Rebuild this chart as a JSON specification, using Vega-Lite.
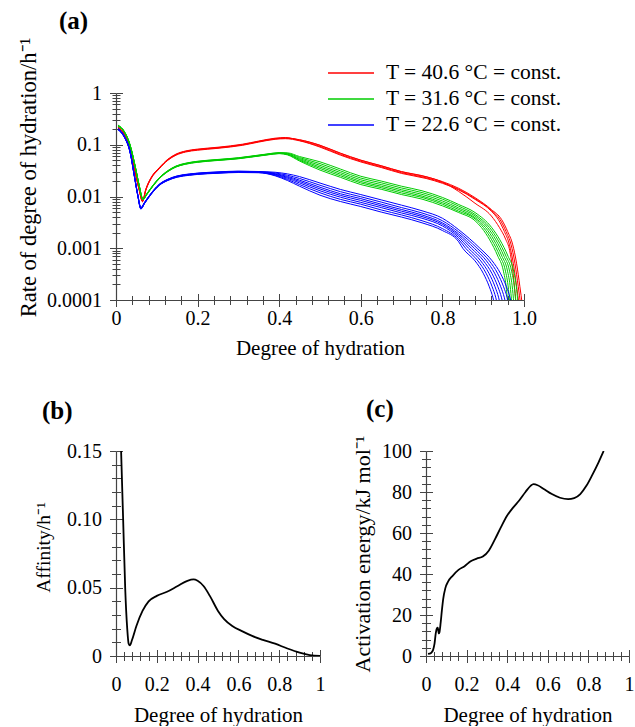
{
"$schema": "https://vega.github.io/schema/vega-lite/v6.json",
"padding": {"left": 11, "top": 9, "right": 0, "bottom": 0},
"config": {
  "font": "Liberation Serif",
  "view": {"stroke": null},
  "axis": {"grid": false, "domainColor": "#444", "tickColor": "#444", "labelColor": "#000", "titleColor": "#000", "labelFont": "Liberation Serif", "titleFont": "Liberation Serif", "labelFontSize": 20, "titleFontSize": 21, "titleFontWeight": "normal", "labelFlush": false, "labelOverlap": false, "labelBound": false, "tickWidth": 1, "domainWidth": 1.2},
  "title": {"font": "Liberation Serif", "fontSize": 25, "fontWeight": "bold", "color": "#000"}
},
"concat": [
{
  "width": 408, "height": 207,
  "title": {"text": "(a)", "frame": "group", "anchor": "start", "dx": -57, "offset": 3},
  "data": {"name": "rate"},
  "layer": [
    {
      "mark": {"type": "line", "interpolate": "monotone", "strokeWidth": 1, "clip": true},
      "encoding": {
        "x": {"field": "x", "type": "quantitative", "scale": {"domain": [0, 1], "nice": false},
          "axis": {"orient": "bottom", "values": [0,0.04,0.08,0.12,0.16,0.2,0.24,0.28,0.32,0.36,0.4,0.44,0.48,0.52,0.56,0.6,0.64,0.68,0.72,0.76,0.8,0.84,0.88,0.92,0.96,1],
            "tickSize": {"condition": {"test": "abs(datum.value*5-round(datum.value*5))<0.001", "value": 6.5}, "value": 4.5},
            "labelExpr": "abs(datum.value*5-round(datum.value*5))<0.001 ? (datum.value==0 ? '0' : format(datum.value,'.1f')) : ''",
            "labelPadding": 2, "title": "Degree of hydration", "titlePadding": 9}},
        "y": {"field": "y", "type": "quantitative", "scale": {"type": "log", "domain": [0.0001, 1], "nice": false},
          "axis": {"orient": "left", "values": [0.0001,0.0002,0.0003,0.0004,0.0005,0.0006,0.0007,0.0008,0.0009,0.001,0.002,0.003,0.004,0.005,0.006,0.007,0.008,0.009,0.01,0.02,0.03,0.04,0.05,0.06,0.07,0.08,0.09,0.1,0.2,0.3,0.4,0.5,0.6,0.7,0.8,0.9,1],
            "tickSize": {"condition": {"test": "abs(log(datum.value)/LN10-round(log(datum.value)/LN10))<0.001", "value": 6.5}, "value": 4},
            "labelExpr": "abs(log(datum.value)/LN10-round(log(datum.value)/LN10))<0.001 ? format(datum.value,'~g') : ''",
            "labelPadding": 8, "title": "Rate of degree of hydration/h⁻¹", "titleFontSize": 22.5, "titlePadding": 6, "titleY": 84}},
        "color": {"field": "t", "type": "nominal",
          "scale": {"domain": ["40.6", "31.6", "22.6"], "range": ["#ff0000", "#00cc00", "#0000ff"]},
          "legend": {"orient": "none", "legendX": 224, "legendY": -31, "title": null, "symbolType": "M-2.3,0H2.3", "symbolSize": 400, "symbolStrokeWidth": 1.5, "labelFontSize": 21.5, "labelFont": "Liberation Serif", "labelColor": "#000", "labelOffset": 24, "rowPadding": 4, "labelLimit": 400, "labelExpr": "'T = ' + datum.label + ' °C = const.'"}},
        "detail": {"field": "g"}
      }
    },
    {
      "mark": {"type": "point", "opacity": 0},
      "encoding": {
        "x": {"field": "x", "type": "quantitative", "scale": {"domain": [0, 1], "nice": false},
          "axis": {"orient": "bottom", "values": [0,0.04,0.08,0.12,0.16,0.2,0.24,0.28,0.32,0.36,0.4,0.44,0.48,0.52,0.56,0.6,0.64,0.68,0.72,0.76,0.8,0.84,0.88,0.92,0.96,1],
            "tickSize": {"condition": {"test": "abs(datum.value*5-round(datum.value*5))<0.001", "value": -6.5}, "value": -4.5},
            "labels": false, "domain": false, "title": null}},
        "y": {"field": "y", "type": "quantitative", "scale": {"type": "log", "domain": [0.0001, 1], "nice": false},
          "axis": {"orient": "left", "values": [0.0001,0.0002,0.0003,0.0004,0.0005,0.0006,0.0007,0.0008,0.0009,0.001,0.002,0.003,0.004,0.005,0.006,0.007,0.008,0.009,0.01,0.02,0.03,0.04,0.05,0.06,0.07,0.08,0.09,0.1,0.2,0.3,0.4,0.5,0.6,0.7,0.8,0.9,1],
            "tickSize": {"condition": {"test": "abs(log(datum.value)/LN10-round(log(datum.value)/LN10))<0.001", "value": -6.5}, "value": -4},
            "labels": false, "domain": false, "title": null}}
      }
    },
    {
      "mark": {"type": "point", "opacity": 0},
      "encoding": {
        "y": {"field": "y", "type": "quantitative", "scale": {"type": "log", "domain": [0.0001, 1], "nice": false},
          "axis": {"orient": "left", "offset": 105, "domain": true, "domainOpacity": 0, "ticks": false, "labels": false, "title": null}}
      }
    }
  ],
  "resolve": {"axis": {"x": "independent", "y": "independent"}}
},
{
  "hconcat": [
    {
      "width": 204, "height": 205,
      "title": {"text": "(b)", "frame": "group", "anchor": "start", "dx": -74, "offset": 17},
      "data": {"name": "aff"},
      "layer": [
        {
          "mark": {"type": "line", "interpolate": "monotone", "strokeWidth": 1.8, "color": "#000", "clip": true},
          "encoding": {
            "x": {"field": "x", "type": "quantitative", "scale": {"domain": [0, 1], "nice": false},
              "axis": {"orient": "bottom", "values": [0,0.04,0.08,0.12,0.16,0.2,0.24,0.28,0.32,0.36,0.4,0.44,0.48,0.52,0.56,0.6,0.64,0.68,0.72,0.76,0.8,0.84,0.88,0.92,0.96,1],
                "tickSize": {"condition": {"test": "abs(datum.value*5-round(datum.value*5))<0.001", "value": 6.5}, "value": 4.5},
                "labelExpr": "abs(datum.value*5-round(datum.value*5))<0.001 ? (datum.value==0 ? '0' : datum.value==1 ? '1' : format(datum.value,'.1f')) : ''",
                "labelPadding": 12, "title": "Degree of hydration", "titlePadding": 10}},
            "y": {"field": "y", "type": "quantitative", "scale": {"domain": [0, 0.15], "nice": false},
              "axis": {"orient": "left", "values": [0,0.01,0.02,0.03,0.04,0.05,0.06,0.07,0.08,0.09,0.1,0.11,0.12,0.13,0.14,0.15],
                "tickSize": {"condition": {"test": "abs(datum.value*20-round(datum.value*20))<0.001", "value": 6.5}, "value": 4.5},
                "labelExpr": "abs(datum.value*20-round(datum.value*20))<0.001 ? (datum.value==0 ? '0' : format(datum.value,'.2f')) : ''",
                "labelPadding": 8, "title": "Affinity/h⁻¹", "titleFontSize": 19.5, "titlePadding": 13, "titleY": 96}}
          }
        },
        {
          "mark": {"type": "point", "opacity": 0},
          "encoding": {
            "x": {"field": "x", "type": "quantitative", "scale": {"domain": [0, 1], "nice": false},
              "axis": {"orient": "bottom", "values": [0,0.04,0.08,0.12,0.16,0.2,0.24,0.28,0.32,0.36,0.4,0.44,0.48,0.52,0.56,0.6,0.64,0.68,0.72,0.76,0.8,0.84,0.88,0.92,0.96,1],
                "tickSize": {"condition": {"test": "abs(datum.value*5-round(datum.value*5))<0.001", "value": -6.5}, "value": -4.5},
                "labels": false, "domain": false, "title": null}},
            "y": {"field": "y", "type": "quantitative", "scale": {"domain": [0, 0.15], "nice": false},
              "axis": {"orient": "left", "values": [0,0.01,0.02,0.03,0.04,0.05,0.06,0.07,0.08,0.09,0.1,0.11,0.12,0.13,0.14,0.15],
                "tickSize": {"condition": {"test": "abs(datum.value*20-round(datum.value*20))<0.001", "value": -6.5}, "value": -4.5},
                "labels": false, "domain": false, "title": null}}
          }
        },
        {
          "mark": {"type": "point", "opacity": 0},
          "encoding": {
            "y": {"field": "y", "type": "quantitative", "scale": {"domain": [0, 0.15], "nice": false},
              "axis": {"orient": "left", "offset": 105, "domain": true, "domainOpacity": 0, "ticks": false, "labels": false, "title": null}}
          }
        }
      ],
      "resolve": {"axis": {"x": "independent", "y": "independent"}}
    },
    {
      "width": 203, "height": 205,
      "title": {"text": "(c)", "frame": "group", "anchor": "start", "dx": -60, "offset": 13},
      "data": {"name": "ener"},
      "layer": [
        {
          "mark": {"type": "line", "interpolate": "monotone", "strokeWidth": 1.8, "color": "#000", "clip": true},
          "encoding": {
            "x": {"field": "x", "type": "quantitative", "scale": {"domain": [0, 1], "nice": false},
              "axis": {"orient": "bottom", "values": [0,0.04,0.08,0.12,0.16,0.2,0.24,0.28,0.32,0.36,0.4,0.44,0.48,0.52,0.56,0.6,0.64,0.68,0.72,0.76,0.8,0.84,0.88,0.92,0.96,1],
                "tickSize": {"condition": {"test": "abs(datum.value*5-round(datum.value*5))<0.001", "value": 6.5}, "value": 4.5},
                "labelExpr": "abs(datum.value*5-round(datum.value*5))<0.001 ? (datum.value==0 ? '0' : datum.value==1 ? '1' : format(datum.value,'.1f')) : ''",
                "labelPadding": 12, "title": "Degree of hydration", "titlePadding": 10}},
            "y": {"field": "y", "type": "quantitative", "scale": {"domain": [0, 100], "nice": false},
              "axis": {"orient": "left", "values": [0,4,8,12,16,20,24,28,32,36,40,44,48,52,56,60,64,68,72,76,80,84,88,92,96,100],
                "tickSize": {"condition": {"test": "datum.value%20==0", "value": 6.5}, "value": 4.5},
                "labelExpr": "datum.value%20==0 ? format(datum.value,'d') : ''",
                "labelPadding": 8, "title": "Activation energy/kJ mol⁻¹", "titleFontSize": 22, "titlePadding": 7}}
          }
        },
        {
          "mark": {"type": "point", "opacity": 0},
          "encoding": {
            "x": {"field": "x", "type": "quantitative", "scale": {"domain": [0, 1], "nice": false},
              "axis": {"orient": "bottom", "values": [0,0.04,0.08,0.12,0.16,0.2,0.24,0.28,0.32,0.36,0.4,0.44,0.48,0.52,0.56,0.6,0.64,0.68,0.72,0.76,0.8,0.84,0.88,0.92,0.96,1],
                "tickSize": {"condition": {"test": "abs(datum.value*5-round(datum.value*5))<0.001", "value": -6.5}, "value": -4.5},
                "labels": false, "domain": false, "title": null}},
            "y": {"field": "y", "type": "quantitative", "scale": {"domain": [0, 100], "nice": false},
              "axis": {"orient": "left", "values": [0,4,8,12,16,20,24,28,32,36,40,44,48,52,56,60,64,68,72,76,80,84,88,92,96,100],
                "tickSize": {"condition": {"test": "datum.value%20==0", "value": -6.5}, "value": -4.5},
                "labels": false, "domain": false, "title": null}}
          }
        },
        {
          "mark": {"type": "point", "opacity": 0},
          "encoding": {
            "y": {"field": "y", "type": "quantitative", "scale": {"domain": [0, 100], "nice": false},
              "axis": {"orient": "left", "offset": 80, "domain": true, "domainOpacity": 0, "ticks": false, "labels": false, "title": null}}
          }
        }
      ],
      "resolve": {"axis": {"x": "independent", "y": "independent"}}
    }
  ],
  "spacing": 21
}
],
"columns": 1,
"align": "none",
"spacing": 38,
"datasets": {
"aff": [
{"x":0.025,"y":0.15},{"x":0.035,"y":0.1},{"x":0.045,"y":0.05},{"x":0.055,"y":0.02},{"x":0.062,"y":0.009},{"x":0.068,"y":0.0078},{"x":0.078,"y":0.0115},{"x":0.1,"y":0.022},{"x":0.13,"y":0.033},{"x":0.16,"y":0.04},{"x":0.2,"y":0.044},{"x":0.25,"y":0.047},{"x":0.3,"y":0.051},{"x":0.35,"y":0.055},{"x":0.38,"y":0.056},{"x":0.4,"y":0.055},{"x":0.43,"y":0.051},{"x":0.46,"y":0.044},{"x":0.5,"y":0.033},{"x":0.53,"y":0.027},{"x":0.57,"y":0.022},{"x":0.62,"y":0.018},{"x":0.67,"y":0.0145},{"x":0.72,"y":0.0118},{"x":0.78,"y":0.009},{"x":0.84,"y":0.0055},{"x":0.9,"y":0.0025},{"x":0.95,"y":0.0007},{"x":1.0,"y":0.0}
],
"ener": [
{"x":0.01,"y":1.0},{"x":0.025,"y":1.5},{"x":0.035,"y":3},{"x":0.042,"y":6},{"x":0.048,"y":11},{"x":0.054,"y":13.5},{"x":0.058,"y":13.8},{"x":0.063,"y":11},{"x":0.066,"y":11.5},{"x":0.072,"y":16},{"x":0.078,"y":22},{"x":0.085,"y":28},{"x":0.095,"y":33},{"x":0.11,"y":36.5},{"x":0.13,"y":39},{"x":0.16,"y":42},{"x":0.19,"y":43.8},{"x":0.22,"y":46.2},{"x":0.25,"y":47.5},{"x":0.28,"y":48.5},{"x":0.31,"y":51.5},{"x":0.34,"y":57},{"x":0.37,"y":63},{"x":0.4,"y":68.5},{"x":0.43,"y":72.5},{"x":0.46,"y":76},{"x":0.49,"y":80},{"x":0.515,"y":83},{"x":0.53,"y":83.8},{"x":0.55,"y":83.3},{"x":0.58,"y":81.5},{"x":0.62,"y":79},{"x":0.66,"y":77.2},{"x":0.7,"y":76.5},{"x":0.73,"y":77},{"x":0.76,"y":79},{"x":0.79,"y":83},{"x":0.82,"y":88.5},{"x":0.85,"y":94.5},{"x":0.875,"y":100}
],
"rate": [
{"g":"r1","t":"40.6","x":0.005,"y":0.215},{"g":"r1","t":"40.6","x":0.02,"y":0.16},{"g":"r1","t":"40.6","x":0.035,"y":0.08},{"g":"r1","t":"40.6","x":0.048,"y":0.027},{"g":"r1","t":"40.6","x":0.057,"y":0.0134},{"g":"r1","t":"40.6","x":0.065,"y":0.008},{"g":"r1","t":"40.6","x":0.073,"y":0.0134},{"g":"r1","t":"40.6","x":0.086,"y":0.0226},{"g":"r1","t":"40.6","x":0.106,"y":0.035},{"g":"r1","t":"40.6","x":0.127,"y":0.051},{"g":"r1","t":"40.6","x":0.147,"y":0.064},{"g":"r1","t":"40.6","x":0.171,"y":0.074},{"g":"r1","t":"40.6","x":0.2,"y":0.08},{"g":"r1","t":"40.6","x":0.25,"y":0.087},{"g":"r1","t":"40.6","x":0.31,"y":0.0995},{"g":"r1","t":"40.6","x":0.35,"y":0.115},{"g":"r1","t":"40.6","x":0.39,"y":0.13},{"g":"r1","t":"40.6","x":0.415,"y":0.134},{"g":"r1","t":"40.6","x":0.45,"y":0.124},{"g":"r1","t":"40.6","x":0.5,"y":0.097},{"g":"r1","t":"40.6","x":0.55,"y":0.068},{"g":"r1","t":"40.6","x":0.6,"y":0.05},{"g":"r1","t":"40.6","x":0.65,"y":0.039},{"g":"r1","t":"40.6","x":0.7,"y":0.03},{"g":"r1","t":"40.6","x":0.76,"y":0.024},{"g":"r1","t":"40.6","x":0.8,"y":0.0194},{"g":"r1","t":"40.6","x":0.84,"y":0.0144},{"g":"r1","t":"40.6","x":0.88,"y":0.0095},{"g":"r1","t":"40.6","x":0.92,"y":0.0056},{"g":"r1","t":"40.6","x":0.945,"y":0.0036},{"g":"r1","t":"40.6","x":0.96,"y":0.0021},{"g":"r1","t":"40.6","x":0.972,"y":0.0012},{"g":"r1","t":"40.6","x":0.982,"y":0.0005},{"g":"r1","t":"40.6","x":0.99,"y":0.00018},{"g":"r1","t":"40.6","x":0.996,"y":0.00008},
{"g":"r2","t":"40.6","x":0.005,"y":0.221},{"g":"r2","t":"40.6","x":0.02,"y":0.165},{"g":"r2","t":"40.6","x":0.035,"y":0.082},{"g":"r2","t":"40.6","x":0.048,"y":0.028},{"g":"r2","t":"40.6","x":0.057,"y":0.0138},{"g":"r2","t":"40.6","x":0.065,"y":0.0082},{"g":"r2","t":"40.6","x":0.073,"y":0.0138},{"g":"r2","t":"40.6","x":0.086,"y":0.0233},{"g":"r2","t":"40.6","x":0.106,"y":0.036},{"g":"r2","t":"40.6","x":0.127,"y":0.0525},{"g":"r2","t":"40.6","x":0.147,"y":0.066},{"g":"r2","t":"40.6","x":0.171,"y":0.076},{"g":"r2","t":"40.6","x":0.2,"y":0.0824},{"g":"r2","t":"40.6","x":0.25,"y":0.0896},{"g":"r2","t":"40.6","x":0.31,"y":0.1025},{"g":"r2","t":"40.6","x":0.35,"y":0.118},{"g":"r2","t":"40.6","x":0.39,"y":0.134},{"g":"r2","t":"40.6","x":0.415,"y":0.138},{"g":"r2","t":"40.6","x":0.45,"y":0.121},{"g":"r2","t":"40.6","x":0.5,"y":0.093},{"g":"r2","t":"40.6","x":0.55,"y":0.065},{"g":"r2","t":"40.6","x":0.6,"y":0.048},{"g":"r2","t":"40.6","x":0.65,"y":0.0374},{"g":"r2","t":"40.6","x":0.7,"y":0.0288},{"g":"r2","t":"40.6","x":0.76,"y":0.023},{"g":"r2","t":"40.6","x":0.8,"y":0.0186},{"g":"r2","t":"40.6","x":0.84,"y":0.0138},{"g":"r2","t":"40.6","x":0.88,"y":0.0091},{"g":"r2","t":"40.6","x":0.92,"y":0.0054},{"g":"r2","t":"40.6","x":0.941,"y":0.0036},{"g":"r2","t":"40.6","x":0.956,"y":0.0021},{"g":"r2","t":"40.6","x":0.968,"y":0.0012},{"g":"r2","t":"40.6","x":0.978,"y":0.0005},{"g":"r2","t":"40.6","x":0.986,"y":0.00018},{"g":"r2","t":"40.6","x":0.992,"y":0.00008},
{"g":"r3","t":"40.6","x":0.005,"y":0.211},{"g":"r3","t":"40.6","x":0.02,"y":0.157},{"g":"r3","t":"40.6","x":0.035,"y":0.078},{"g":"r3","t":"40.6","x":0.048,"y":0.0265},{"g":"r3","t":"40.6","x":0.057,"y":0.0131},{"g":"r3","t":"40.6","x":0.065,"y":0.0079},{"g":"r3","t":"40.6","x":0.073,"y":0.0131},{"g":"r3","t":"40.6","x":0.086,"y":0.0221},{"g":"r3","t":"40.6","x":0.106,"y":0.0343},{"g":"r3","t":"40.6","x":0.127,"y":0.05},{"g":"r3","t":"40.6","x":0.147,"y":0.0627},{"g":"r3","t":"40.6","x":0.171,"y":0.0725},{"g":"r3","t":"40.6","x":0.2,"y":0.0784},{"g":"r3","t":"40.6","x":0.25,"y":0.0853},{"g":"r3","t":"40.6","x":0.31,"y":0.0975},{"g":"r3","t":"40.6","x":0.35,"y":0.1127},{"g":"r3","t":"40.6","x":0.39,"y":0.1274},{"g":"r3","t":"40.6","x":0.415,"y":0.131},{"g":"r3","t":"40.6","x":0.45,"y":0.119},{"g":"r3","t":"40.6","x":0.5,"y":0.09},{"g":"r3","t":"40.6","x":0.55,"y":0.063},{"g":"r3","t":"40.6","x":0.6,"y":0.0465},{"g":"r3","t":"40.6","x":0.65,"y":0.0363},{"g":"r3","t":"40.6","x":0.7,"y":0.0279},{"g":"r3","t":"40.6","x":0.76,"y":0.0223},{"g":"r3","t":"40.6","x":0.8,"y":0.018},{"g":"r3","t":"40.6","x":0.84,"y":0.0134},{"g":"r3","t":"40.6","x":0.88,"y":0.0088},{"g":"r3","t":"40.6","x":0.92,"y":0.0052},{"g":"r3","t":"40.6","x":0.937,"y":0.0036},{"g":"r3","t":"40.6","x":0.952,"y":0.0021},{"g":"r3","t":"40.6","x":0.964,"y":0.0012},{"g":"r3","t":"40.6","x":0.974,"y":0.0005},{"g":"r3","t":"40.6","x":0.982,"y":0.00018},{"g":"r3","t":"40.6","x":0.988,"y":0.00008},
{"g":"r4","t":"40.6","x":0.005,"y":0.217},{"g":"r4","t":"40.6","x":0.02,"y":0.162},{"g":"r4","t":"40.6","x":0.035,"y":0.081},{"g":"r4","t":"40.6","x":0.048,"y":0.0273},{"g":"r4","t":"40.6","x":0.057,"y":0.0135},{"g":"r4","t":"40.6","x":0.065,"y":0.0081},{"g":"r4","t":"40.6","x":0.073,"y":0.0135},{"g":"r4","t":"40.6","x":0.086,"y":0.0228},{"g":"r4","t":"40.6","x":0.106,"y":0.0354},{"g":"r4","t":"40.6","x":0.127,"y":0.0515},{"g":"r4","t":"40.6","x":0.147,"y":0.0646},{"g":"r4","t":"40.6","x":0.171,"y":0.0747},{"g":"r4","t":"40.6","x":0.2,"y":0.0808},{"g":"r4","t":"40.6","x":0.25,"y":0.0879},{"g":"r4","t":"40.6","x":0.31,"y":0.1005},{"g":"r4","t":"40.6","x":0.35,"y":0.116},{"g":"r4","t":"40.6","x":0.39,"y":0.131},{"g":"r4","t":"40.6","x":0.415,"y":0.135},{"g":"r4","t":"40.6","x":0.45,"y":0.125},{"g":"r4","t":"40.6","x":0.5,"y":0.098},{"g":"r4","t":"40.6","x":0.55,"y":0.069},{"g":"r4","t":"40.6","x":0.6,"y":0.0505},{"g":"r4","t":"40.6","x":0.65,"y":0.0394},{"g":"r4","t":"40.6","x":0.7,"y":0.0303},{"g":"r4","t":"40.6","x":0.76,"y":0.0242},{"g":"r4","t":"40.6","x":0.8,"y":0.019},{"g":"r4","t":"40.6","x":0.84,"y":0.0125},{"g":"r4","t":"40.6","x":0.88,"y":0.0074},{"g":"r4","t":"40.6","x":0.92,"y":0.0042},{"g":"r4","t":"40.6","x":0.94,"y":0.0025},{"g":"r4","t":"40.6","x":0.955,"y":0.0015},{"g":"r4","t":"40.6","x":0.965,"y":0.0009},{"g":"r4","t":"40.6","x":0.972,"y":0.0004},{"g":"r4","t":"40.6","x":0.977,"y":0.00017},{"g":"r4","t":"40.6","x":0.981,"y":0.00008},
{"g":"g1","t":"31.6","x":0.005,"y":0.24},{"g":"g1","t":"31.6","x":0.02,"y":0.184},{"g":"g1","t":"31.6","x":0.035,"y":0.097},{"g":"g1","t":"31.6","x":0.048,"y":0.0357},{"g":"g1","t":"31.6","x":0.057,"y":0.0163},{"g":"g1","t":"31.6","x":0.066,"y":0.009},{"g":"g1","t":"31.6","x":0.075,"y":0.0112},{"g":"g1","t":"31.6","x":0.09,"y":0.0163},{"g":"g1","t":"31.6","x":0.106,"y":0.023},{"g":"g1","t":"31.6","x":0.127,"y":0.0316},{"g":"g1","t":"31.6","x":0.147,"y":0.0388},{"g":"g1","t":"31.6","x":0.17,"y":0.0439},{"g":"g1","t":"31.6","x":0.2,"y":0.048},{"g":"g1","t":"31.6","x":0.25,"y":0.052},{"g":"g1","t":"31.6","x":0.3,"y":0.0561},{"g":"g1","t":"31.6","x":0.33,"y":0.0602},{"g":"g1","t":"31.6","x":0.37,"y":0.0663},{"g":"g1","t":"31.6","x":0.4,"y":0.0704},{"g":"g1","t":"31.6","x":0.42,"y":0.0698},{"g":"g1","t":"31.6","x":0.45,"y":0.0591},{"g":"g1","t":"31.6","x":0.5,"y":0.0468},{"g":"g1","t":"31.6","x":0.55,"y":0.0339},{"g":"g1","t":"31.6","x":0.6,"y":0.0246},{"g":"g1","t":"31.6","x":0.65,"y":0.0199},{"g":"g1","t":"31.6","x":0.7,"y":0.0158},{"g":"g1","t":"31.6","x":0.75,"y":0.0129},{"g":"g1","t":"31.6","x":0.8,"y":0.0096},{"g":"g1","t":"31.6","x":0.84,"y":0.007},{"g":"g1","t":"31.6","x":0.88,"y":0.0049},{"g":"g1","t":"31.6","x":0.921,"y":0.0025},{"g":"g1","t":"31.6","x":0.941,"y":0.00145},{"g":"g1","t":"31.6","x":0.961,"y":0.0007},{"g":"g1","t":"31.6","x":0.974,"y":0.00038},{"g":"g1","t":"31.6","x":0.982,"y":0.00016},{"g":"g1","t":"31.6","x":0.986,"y":0.00007},
{"g":"g2","t":"31.6","x":0.005,"y":0.237},{"g":"g2","t":"31.6","x":0.02,"y":0.182},{"g":"g2","t":"31.6","x":0.035,"y":0.096},{"g":"g2","t":"31.6","x":0.048,"y":0.0354},{"g":"g2","t":"31.6","x":0.057,"y":0.0162},{"g":"g2","t":"31.6","x":0.066,"y":0.0089},{"g":"g2","t":"31.6","x":0.075,"y":0.0111},{"g":"g2","t":"31.6","x":0.09,"y":0.0162},{"g":"g2","t":"31.6","x":0.106,"y":0.0228},{"g":"g2","t":"31.6","x":0.127,"y":0.0313},{"g":"g2","t":"31.6","x":0.147,"y":0.0384},{"g":"g2","t":"31.6","x":0.17,"y":0.0434},{"g":"g2","t":"31.6","x":0.2,"y":0.0475},{"g":"g2","t":"31.6","x":0.25,"y":0.0515},{"g":"g2","t":"31.6","x":0.3,"y":0.0556},{"g":"g2","t":"31.6","x":0.33,"y":0.0596},{"g":"g2","t":"31.6","x":0.37,"y":0.0657},{"g":"g2","t":"31.6","x":0.4,"y":0.0697},{"g":"g2","t":"31.6","x":0.42,"y":0.0683},{"g":"g2","t":"31.6","x":0.45,"y":0.0564},{"g":"g2","t":"31.6","x":0.5,"y":0.0432},{"g":"g2","t":"31.6","x":0.55,"y":0.0313},{"g":"g2","t":"31.6","x":0.6,"y":0.0227},{"g":"g2","t":"31.6","x":0.65,"y":0.0184},{"g":"g2","t":"31.6","x":0.7,"y":0.0146},{"g":"g2","t":"31.6","x":0.75,"y":0.0119},{"g":"g2","t":"31.6","x":0.8,"y":0.0089},{"g":"g2","t":"31.6","x":0.84,"y":0.0065},{"g":"g2","t":"31.6","x":0.88,"y":0.0045},{"g":"g2","t":"31.6","x":0.916,"y":0.0025},{"g":"g2","t":"31.6","x":0.936,"y":0.00145},{"g":"g2","t":"31.6","x":0.956,"y":0.0007},{"g":"g2","t":"31.6","x":0.969,"y":0.00038},{"g":"g2","t":"31.6","x":0.977,"y":0.00016},{"g":"g2","t":"31.6","x":0.981,"y":0.00007},
{"g":"g3","t":"31.6","x":0.005,"y":0.235},{"g":"g3","t":"31.6","x":0.02,"y":0.18},{"g":"g3","t":"31.6","x":0.035,"y":0.095},{"g":"g3","t":"31.6","x":0.048,"y":0.035},{"g":"g3","t":"31.6","x":0.057,"y":0.016},{"g":"g3","t":"31.6","x":0.066,"y":0.0088},{"g":"g3","t":"31.6","x":0.075,"y":0.011},{"g":"g3","t":"31.6","x":0.09,"y":0.016},{"g":"g3","t":"31.6","x":0.106,"y":0.0226},{"g":"g3","t":"31.6","x":0.127,"y":0.031},{"g":"g3","t":"31.6","x":0.147,"y":0.038},{"g":"g3","t":"31.6","x":0.17,"y":0.043},{"g":"g3","t":"31.6","x":0.2,"y":0.047},{"g":"g3","t":"31.6","x":0.25,"y":0.051},{"g":"g3","t":"31.6","x":0.3,"y":0.055},{"g":"g3","t":"31.6","x":0.33,"y":0.059},{"g":"g3","t":"31.6","x":0.37,"y":0.065},{"g":"g3","t":"31.6","x":0.4,"y":0.069},{"g":"g3","t":"31.6","x":0.42,"y":0.067},{"g":"g3","t":"31.6","x":0.45,"y":0.054},{"g":"g3","t":"31.6","x":0.5,"y":0.04},{"g":"g3","t":"31.6","x":0.55,"y":0.029},{"g":"g3","t":"31.6","x":0.6,"y":0.021},{"g":"g3","t":"31.6","x":0.65,"y":0.017},{"g":"g3","t":"31.6","x":0.7,"y":0.0135},{"g":"g3","t":"31.6","x":0.75,"y":0.011},{"g":"g3","t":"31.6","x":0.8,"y":0.0082},{"g":"g3","t":"31.6","x":0.84,"y":0.006},{"g":"g3","t":"31.6","x":0.88,"y":0.0042},{"g":"g3","t":"31.6","x":0.911,"y":0.0025},{"g":"g3","t":"31.6","x":0.931,"y":0.00145},{"g":"g3","t":"31.6","x":0.951,"y":0.0007},{"g":"g3","t":"31.6","x":0.964,"y":0.00038},{"g":"g3","t":"31.6","x":0.972,"y":0.00016},{"g":"g3","t":"31.6","x":0.976,"y":0.00007},
{"g":"g4","t":"31.6","x":0.005,"y":0.233},{"g":"g4","t":"31.6","x":0.02,"y":0.178},{"g":"g4","t":"31.6","x":0.035,"y":0.094},{"g":"g4","t":"31.6","x":0.048,"y":0.0347},{"g":"g4","t":"31.6","x":0.057,"y":0.0158},{"g":"g4","t":"31.6","x":0.066,"y":0.0087},{"g":"g4","t":"31.6","x":0.075,"y":0.0109},{"g":"g4","t":"31.6","x":0.09,"y":0.0158},{"g":"g4","t":"31.6","x":0.106,"y":0.0224},{"g":"g4","t":"31.6","x":0.127,"y":0.0307},{"g":"g4","t":"31.6","x":0.147,"y":0.0376},{"g":"g4","t":"31.6","x":0.17,"y":0.0426},{"g":"g4","t":"31.6","x":0.2,"y":0.0465},{"g":"g4","t":"31.6","x":0.25,"y":0.0505},{"g":"g4","t":"31.6","x":0.3,"y":0.0545},{"g":"g4","t":"31.6","x":0.33,"y":0.0584},{"g":"g4","t":"31.6","x":0.37,"y":0.0644},{"g":"g4","t":"31.6","x":0.4,"y":0.0683},{"g":"g4","t":"31.6","x":0.42,"y":0.0658},{"g":"g4","t":"31.6","x":0.45,"y":0.0519},{"g":"g4","t":"31.6","x":0.5,"y":0.0372},{"g":"g4","t":"31.6","x":0.55,"y":0.027},{"g":"g4","t":"31.6","x":0.6,"y":0.0195},{"g":"g4","t":"31.6","x":0.65,"y":0.0158},{"g":"g4","t":"31.6","x":0.7,"y":0.0126},{"g":"g4","t":"31.6","x":0.75,"y":0.0102},{"g":"g4","t":"31.6","x":0.8,"y":0.0076},{"g":"g4","t":"31.6","x":0.84,"y":0.0056},{"g":"g4","t":"31.6","x":0.88,"y":0.0039},{"g":"g4","t":"31.6","x":0.906,"y":0.0025},{"g":"g4","t":"31.6","x":0.926,"y":0.00145},{"g":"g4","t":"31.6","x":0.946,"y":0.0007},{"g":"g4","t":"31.6","x":0.959,"y":0.00038},{"g":"g4","t":"31.6","x":0.967,"y":0.00016},{"g":"g4","t":"31.6","x":0.971,"y":0.00007},
{"g":"g5","t":"31.6","x":0.005,"y":0.231},{"g":"g5","t":"31.6","x":0.02,"y":0.177},{"g":"g5","t":"31.6","x":0.035,"y":0.0936},{"g":"g5","t":"31.6","x":0.048,"y":0.0345},{"g":"g5","t":"31.6","x":0.057,"y":0.0158},{"g":"g5","t":"31.6","x":0.066,"y":0.0087},{"g":"g5","t":"31.6","x":0.075,"y":0.0108},{"g":"g5","t":"31.6","x":0.09,"y":0.0158},{"g":"g5","t":"31.6","x":0.106,"y":0.0223},{"g":"g5","t":"31.6","x":0.127,"y":0.0305},{"g":"g5","t":"31.6","x":0.147,"y":0.0374},{"g":"g5","t":"31.6","x":0.17,"y":0.0424},{"g":"g5","t":"31.6","x":0.2,"y":0.0463},{"g":"g5","t":"31.6","x":0.25,"y":0.0502},{"g":"g5","t":"31.6","x":0.3,"y":0.0542},{"g":"g5","t":"31.6","x":0.33,"y":0.0581},{"g":"g5","t":"31.6","x":0.37,"y":0.064},{"g":"g5","t":"31.6","x":0.4,"y":0.068},{"g":"g5","t":"31.6","x":0.42,"y":0.0648},{"g":"g5","t":"31.6","x":0.45,"y":0.0501},{"g":"g5","t":"31.6","x":0.5,"y":0.0348},{"g":"g5","t":"31.6","x":0.55,"y":0.0252},{"g":"g5","t":"31.6","x":0.6,"y":0.0183},{"g":"g5","t":"31.6","x":0.65,"y":0.0148},{"g":"g5","t":"31.6","x":0.7,"y":0.0117},{"g":"g5","t":"31.6","x":0.75,"y":0.0096},{"g":"g5","t":"31.6","x":0.8,"y":0.0071},{"g":"g5","t":"31.6","x":0.84,"y":0.0052},{"g":"g5","t":"31.6","x":0.88,"y":0.0037},{"g":"g5","t":"31.6","x":0.901,"y":0.0025},{"g":"g5","t":"31.6","x":0.921,"y":0.00145},{"g":"g5","t":"31.6","x":0.941,"y":0.0007},{"g":"g5","t":"31.6","x":0.954,"y":0.00038},{"g":"g5","t":"31.6","x":0.962,"y":0.00016},{"g":"g5","t":"31.6","x":0.966,"y":0.00007},
{"g":"g6","t":"31.6","x":0.005,"y":0.229},{"g":"g6","t":"31.6","x":0.02,"y":0.176},{"g":"g6","t":"31.6","x":0.035,"y":0.0926},{"g":"g6","t":"31.6","x":0.048,"y":0.0341},{"g":"g6","t":"31.6","x":0.057,"y":0.0156},{"g":"g6","t":"31.6","x":0.066,"y":0.0086},{"g":"g6","t":"31.6","x":0.075,"y":0.0107},{"g":"g6","t":"31.6","x":0.09,"y":0.0156},{"g":"g6","t":"31.6","x":0.106,"y":0.022},{"g":"g6","t":"31.6","x":0.127,"y":0.0302},{"g":"g6","t":"31.6","x":0.147,"y":0.0371},{"g":"g6","t":"31.6","x":0.17,"y":0.0419},{"g":"g6","t":"31.6","x":0.2,"y":0.0458},{"g":"g6","t":"31.6","x":0.25,"y":0.0497},{"g":"g6","t":"31.6","x":0.3,"y":0.0536},{"g":"g6","t":"31.6","x":0.33,"y":0.0575},{"g":"g6","t":"31.6","x":0.37,"y":0.0634},{"g":"g6","t":"31.6","x":0.4,"y":0.0673},{"g":"g6","t":"31.6","x":0.42,"y":0.0638},{"g":"g6","t":"31.6","x":0.45,"y":0.0484},{"g":"g6","t":"31.6","x":0.5,"y":0.0324},{"g":"g6","t":"31.6","x":0.55,"y":0.0235},{"g":"g6","t":"31.6","x":0.6,"y":0.017},{"g":"g6","t":"31.6","x":0.65,"y":0.0138},{"g":"g6","t":"31.6","x":0.7,"y":0.0109},{"g":"g6","t":"31.6","x":0.75,"y":0.0089},{"g":"g6","t":"31.6","x":0.8,"y":0.0066},{"g":"g6","t":"31.6","x":0.84,"y":0.0049},{"g":"g6","t":"31.6","x":0.88,"y":0.0034},{"g":"g6","t":"31.6","x":0.896,"y":0.0025},{"g":"g6","t":"31.6","x":0.916,"y":0.00145},{"g":"g6","t":"31.6","x":0.936,"y":0.0007},{"g":"g6","t":"31.6","x":0.949,"y":0.00038},{"g":"g6","t":"31.6","x":0.957,"y":0.00016},{"g":"g6","t":"31.6","x":0.961,"y":0.00007},
{"g":"b1","t":"22.6","x":0.005,"y":0.206},{"g":"b1","t":"22.6","x":0.02,"y":0.149},{"g":"b1","t":"22.6","x":0.035,"y":0.0721},{"g":"b1","t":"22.6","x":0.045,"y":0.0258},{"g":"b1","t":"22.6","x":0.053,"y":0.0113},{"g":"b1","t":"22.6","x":0.061,"y":0.0061},{"g":"b1","t":"22.6","x":0.07,"y":0.0077},{"g":"b1","t":"22.6","x":0.085,"y":0.0113},{"g":"b1","t":"22.6","x":0.106,"y":0.0173},{"g":"b1","t":"22.6","x":0.127,"y":0.0216},{"g":"b1","t":"22.6","x":0.15,"y":0.025},{"g":"b1","t":"22.6","x":0.18,"y":0.0273},{"g":"b1","t":"22.6","x":0.2,"y":0.0283},{"g":"b1","t":"22.6","x":0.25,"y":0.0299},{"g":"b1","t":"22.6","x":0.3,"y":0.0309},{"g":"b1","t":"22.6","x":0.35,"y":0.0304},{"g":"b1","t":"22.6","x":0.39,"y":0.0294},{"g":"b1","t":"22.6","x":0.42,"y":0.0274},{"g":"b1","t":"22.6","x":0.45,"y":0.0242},{"g":"b1","t":"22.6","x":0.5,"y":0.0182},{"g":"b1","t":"22.6","x":0.55,"y":0.0137},{"g":"b1","t":"22.6","x":0.6,"y":0.0109},{"g":"b1","t":"22.6","x":0.65,"y":0.0086},{"g":"b1","t":"22.6","x":0.7,"y":0.0068},{"g":"b1","t":"22.6","x":0.75,"y":0.0053},{"g":"b1","t":"22.6","x":0.8,"y":0.0038},{"g":"b1","t":"22.6","x":0.84,"y":0.00228},{"g":"b1","t":"22.6","x":0.892,"y":0.001},{"g":"b1","t":"22.6","x":0.922,"y":0.00057},{"g":"b1","t":"22.6","x":0.942,"y":0.00033},{"g":"b1","t":"22.6","x":0.957,"y":0.00018},{"g":"b1","t":"22.6","x":0.966,"y":0.00011},{"g":"b1","t":"22.6","x":0.97,"y":0.00008},
{"g":"b2","t":"22.6","x":0.005,"y":0.204},{"g":"b2","t":"22.6","x":0.02,"y":0.148},{"g":"b2","t":"22.6","x":0.035,"y":0.0714},{"g":"b2","t":"22.6","x":0.045,"y":0.0255},{"g":"b2","t":"22.6","x":0.053,"y":0.0112},{"g":"b2","t":"22.6","x":0.061,"y":0.006},{"g":"b2","t":"22.6","x":0.07,"y":0.0077},{"g":"b2","t":"22.6","x":0.085,"y":0.0112},{"g":"b2","t":"22.6","x":0.106,"y":0.0171},{"g":"b2","t":"22.6","x":0.127,"y":0.0214},{"g":"b2","t":"22.6","x":0.15,"y":0.0248},{"g":"b2","t":"22.6","x":0.18,"y":0.027},{"g":"b2","t":"22.6","x":0.2,"y":0.0281},{"g":"b2","t":"22.6","x":0.25,"y":0.0296},{"g":"b2","t":"22.6","x":0.3,"y":0.0306},{"g":"b2","t":"22.6","x":0.35,"y":0.03},{"g":"b2","t":"22.6","x":0.39,"y":0.0285},{"g":"b2","t":"22.6","x":0.42,"y":0.0258},{"g":"b2","t":"22.6","x":0.45,"y":0.0223},{"g":"b2","t":"22.6","x":0.5,"y":0.0165},{"g":"b2","t":"22.6","x":0.55,"y":0.0124},{"g":"b2","t":"22.6","x":0.6,"y":0.0099},{"g":"b2","t":"22.6","x":0.65,"y":0.0078},{"g":"b2","t":"22.6","x":0.7,"y":0.0061},{"g":"b2","t":"22.6","x":0.75,"y":0.0048},{"g":"b2","t":"22.6","x":0.8,"y":0.0034},{"g":"b2","t":"22.6","x":0.84,"y":0.00207},{"g":"b2","t":"22.6","x":0.885,"y":0.001},{"g":"b2","t":"22.6","x":0.915,"y":0.00057},{"g":"b2","t":"22.6","x":0.935,"y":0.00033},{"g":"b2","t":"22.6","x":0.95,"y":0.00018},{"g":"b2","t":"22.6","x":0.959,"y":0.00011},{"g":"b2","t":"22.6","x":0.963,"y":0.00008},
{"g":"b3","t":"22.6","x":0.005,"y":0.202},{"g":"b3","t":"22.6","x":0.02,"y":0.146},{"g":"b3","t":"22.6","x":0.035,"y":0.0707},{"g":"b3","t":"22.6","x":0.045,"y":0.0253},{"g":"b3","t":"22.6","x":0.053,"y":0.0111},{"g":"b3","t":"22.6","x":0.061,"y":0.006},{"g":"b3","t":"22.6","x":0.07,"y":0.0076},{"g":"b3","t":"22.6","x":0.085,"y":0.0111},{"g":"b3","t":"22.6","x":0.106,"y":0.017},{"g":"b3","t":"22.6","x":0.127,"y":0.0212},{"g":"b3","t":"22.6","x":0.15,"y":0.0245},{"g":"b3","t":"22.6","x":0.18,"y":0.0268},{"g":"b3","t":"22.6","x":0.2,"y":0.0278},{"g":"b3","t":"22.6","x":0.25,"y":0.0293},{"g":"b3","t":"22.6","x":0.3,"y":0.0303},{"g":"b3","t":"22.6","x":0.35,"y":0.0297},{"g":"b3","t":"22.6","x":0.39,"y":0.0276},{"g":"b3","t":"22.6","x":0.42,"y":0.0245},{"g":"b3","t":"22.6","x":0.45,"y":0.0207},{"g":"b3","t":"22.6","x":0.5,"y":0.0151},{"g":"b3","t":"22.6","x":0.55,"y":0.0113},{"g":"b3","t":"22.6","x":0.6,"y":0.0091},{"g":"b3","t":"22.6","x":0.65,"y":0.0071},{"g":"b3","t":"22.6","x":0.7,"y":0.0056},{"g":"b3","t":"22.6","x":0.75,"y":0.0044},{"g":"b3","t":"22.6","x":0.8,"y":0.0031},{"g":"b3","t":"22.6","x":0.84,"y":0.00189},{"g":"b3","t":"22.6","x":0.878,"y":0.001},{"g":"b3","t":"22.6","x":0.908,"y":0.00057},{"g":"b3","t":"22.6","x":0.928,"y":0.00033},{"g":"b3","t":"22.6","x":0.943,"y":0.00018},{"g":"b3","t":"22.6","x":0.952,"y":0.00011},{"g":"b3","t":"22.6","x":0.956,"y":0.00008},
{"g":"b4","t":"22.6","x":0.005,"y":0.2},{"g":"b4","t":"22.6","x":0.02,"y":0.145},{"g":"b4","t":"22.6","x":0.035,"y":0.07},{"g":"b4","t":"22.6","x":0.045,"y":0.025},{"g":"b4","t":"22.6","x":0.053,"y":0.011},{"g":"b4","t":"22.6","x":0.061,"y":0.0059},{"g":"b4","t":"22.6","x":0.07,"y":0.0075},{"g":"b4","t":"22.6","x":0.085,"y":0.011},{"g":"b4","t":"22.6","x":0.106,"y":0.0168},{"g":"b4","t":"22.6","x":0.127,"y":0.021},{"g":"b4","t":"22.6","x":0.15,"y":0.0243},{"g":"b4","t":"22.6","x":0.18,"y":0.0265},{"g":"b4","t":"22.6","x":0.2,"y":0.0275},{"g":"b4","t":"22.6","x":0.25,"y":0.029},{"g":"b4","t":"22.6","x":0.3,"y":0.03},{"g":"b4","t":"22.6","x":0.35,"y":0.0295},{"g":"b4","t":"22.6","x":0.39,"y":0.027},{"g":"b4","t":"22.6","x":0.42,"y":0.0235},{"g":"b4","t":"22.6","x":0.45,"y":0.0195},{"g":"b4","t":"22.6","x":0.5,"y":0.014},{"g":"b4","t":"22.6","x":0.55,"y":0.0105},{"g":"b4","t":"22.6","x":0.6,"y":0.0084},{"g":"b4","t":"22.6","x":0.65,"y":0.0066},{"g":"b4","t":"22.6","x":0.7,"y":0.0052},{"g":"b4","t":"22.6","x":0.75,"y":0.0041},{"g":"b4","t":"22.6","x":0.8,"y":0.0029},{"g":"b4","t":"22.6","x":0.84,"y":0.00175},{"g":"b4","t":"22.6","x":0.871,"y":0.001},{"g":"b4","t":"22.6","x":0.901,"y":0.00057},{"g":"b4","t":"22.6","x":0.921,"y":0.00033},{"g":"b4","t":"22.6","x":0.936,"y":0.00018},{"g":"b4","t":"22.6","x":0.945,"y":0.00011},{"g":"b4","t":"22.6","x":0.949,"y":0.00008},
{"g":"b5","t":"22.6","x":0.005,"y":0.198},{"g":"b5","t":"22.6","x":0.02,"y":0.1436},{"g":"b5","t":"22.6","x":0.035,"y":0.0693},{"g":"b5","t":"22.6","x":0.045,"y":0.0248},{"g":"b5","t":"22.6","x":0.053,"y":0.0109},{"g":"b5","t":"22.6","x":0.061,"y":0.0058},{"g":"b5","t":"22.6","x":0.07,"y":0.0074},{"g":"b5","t":"22.6","x":0.085,"y":0.0109},{"g":"b5","t":"22.6","x":0.106,"y":0.0166},{"g":"b5","t":"22.6","x":0.127,"y":0.0208},{"g":"b5","t":"22.6","x":0.15,"y":0.0241},{"g":"b5","t":"22.6","x":0.18,"y":0.0262},{"g":"b5","t":"22.6","x":0.2,"y":0.0272},{"g":"b5","t":"22.6","x":0.25,"y":0.0287},{"g":"b5","t":"22.6","x":0.3,"y":0.0297},{"g":"b5","t":"22.6","x":0.35,"y":0.0293},{"g":"b5","t":"22.6","x":0.39,"y":0.0264},{"g":"b5","t":"22.6","x":0.42,"y":0.0225},{"g":"b5","t":"22.6","x":0.45,"y":0.0183},{"g":"b5","t":"22.6","x":0.5,"y":0.0129},{"g":"b5","t":"22.6","x":0.55,"y":0.0097},{"g":"b5","t":"22.6","x":0.6,"y":0.0077},{"g":"b5","t":"22.6","x":0.65,"y":0.0061},{"g":"b5","t":"22.6","x":0.7,"y":0.0048},{"g":"b5","t":"22.6","x":0.75,"y":0.0038},{"g":"b5","t":"22.6","x":0.8,"y":0.0027},{"g":"b5","t":"22.6","x":0.84,"y":0.00161},{"g":"b5","t":"22.6","x":0.864,"y":0.001},{"g":"b5","t":"22.6","x":0.894,"y":0.00057},{"g":"b5","t":"22.6","x":0.914,"y":0.00033},{"g":"b5","t":"22.6","x":0.929,"y":0.00018},{"g":"b5","t":"22.6","x":0.938,"y":0.00011},{"g":"b5","t":"22.6","x":0.942,"y":0.00008},
{"g":"b6","t":"22.6","x":0.005,"y":0.196},{"g":"b6","t":"22.6","x":0.02,"y":0.142},{"g":"b6","t":"22.6","x":0.035,"y":0.0686},{"g":"b6","t":"22.6","x":0.045,"y":0.0245},{"g":"b6","t":"22.6","x":0.053,"y":0.0108},{"g":"b6","t":"22.6","x":0.061,"y":0.0058},{"g":"b6","t":"22.6","x":0.07,"y":0.0074},{"g":"b6","t":"22.6","x":0.085,"y":0.0108},{"g":"b6","t":"22.6","x":0.106,"y":0.0165},{"g":"b6","t":"22.6","x":0.127,"y":0.0206},{"g":"b6","t":"22.6","x":0.15,"y":0.0238},{"g":"b6","t":"22.6","x":0.18,"y":0.026},{"g":"b6","t":"22.6","x":0.2,"y":0.027},{"g":"b6","t":"22.6","x":0.25,"y":0.0284},{"g":"b6","t":"22.6","x":0.3,"y":0.0294},{"g":"b6","t":"22.6","x":0.35,"y":0.029},{"g":"b6","t":"22.6","x":0.39,"y":0.0257},{"g":"b6","t":"22.6","x":0.42,"y":0.0214},{"g":"b6","t":"22.6","x":0.45,"y":0.017},{"g":"b6","t":"22.6","x":0.5,"y":0.0118},{"g":"b6","t":"22.6","x":0.55,"y":0.0088},{"g":"b6","t":"22.6","x":0.6,"y":0.0071},{"g":"b6","t":"22.6","x":0.65,"y":0.0055},{"g":"b6","t":"22.6","x":0.7,"y":0.0044},{"g":"b6","t":"22.6","x":0.75,"y":0.0034},{"g":"b6","t":"22.6","x":0.8,"y":0.0024},{"g":"b6","t":"22.6","x":0.84,"y":0.00147},{"g":"b6","t":"22.6","x":0.857,"y":0.001},{"g":"b6","t":"22.6","x":0.887,"y":0.00057},{"g":"b6","t":"22.6","x":0.907,"y":0.00033},{"g":"b6","t":"22.6","x":0.922,"y":0.00018},{"g":"b6","t":"22.6","x":0.931,"y":0.00011},{"g":"b6","t":"22.6","x":0.935,"y":0.00008},
{"g":"b7","t":"22.6","x":0.005,"y":0.194},{"g":"b7","t":"22.6","x":0.02,"y":0.141},{"g":"b7","t":"22.6","x":0.035,"y":0.0679},{"g":"b7","t":"22.6","x":0.045,"y":0.0243},{"g":"b7","t":"22.6","x":0.053,"y":0.0107},{"g":"b7","t":"22.6","x":0.061,"y":0.0057},{"g":"b7","t":"22.6","x":0.07,"y":0.0073},{"g":"b7","t":"22.6","x":0.085,"y":0.0107},{"g":"b7","t":"22.6","x":0.106,"y":0.0163},{"g":"b7","t":"22.6","x":0.127,"y":0.0204},{"g":"b7","t":"22.6","x":0.15,"y":0.0236},{"g":"b7","t":"22.6","x":0.18,"y":0.0257},{"g":"b7","t":"22.6","x":0.2,"y":0.0267},{"g":"b7","t":"22.6","x":0.25,"y":0.0281},{"g":"b7","t":"22.6","x":0.3,"y":0.0291},{"g":"b7","t":"22.6","x":0.35,"y":0.0288},{"g":"b7","t":"22.6","x":0.39,"y":0.0251},{"g":"b7","t":"22.6","x":0.42,"y":0.0204},{"g":"b7","t":"22.6","x":0.45,"y":0.0158},{"g":"b7","t":"22.6","x":0.5,"y":0.0106},{"g":"b7","t":"22.6","x":0.55,"y":0.008},{"g":"b7","t":"22.6","x":0.6,"y":0.0064},{"g":"b7","t":"22.6","x":0.65,"y":0.005},{"g":"b7","t":"22.6","x":0.7,"y":0.004},{"g":"b7","t":"22.6","x":0.75,"y":0.0031},{"g":"b7","t":"22.6","x":0.8,"y":0.0022},{"g":"b7","t":"22.6","x":0.84,"y":0.00133},{"g":"b7","t":"22.6","x":0.85,"y":0.001},{"g":"b7","t":"22.6","x":0.88,"y":0.00057},{"g":"b7","t":"22.6","x":0.9,"y":0.00033},{"g":"b7","t":"22.6","x":0.915,"y":0.00018},{"g":"b7","t":"22.6","x":0.924,"y":0.00011},{"g":"b7","t":"22.6","x":0.928,"y":0.00008}
]
}
}
